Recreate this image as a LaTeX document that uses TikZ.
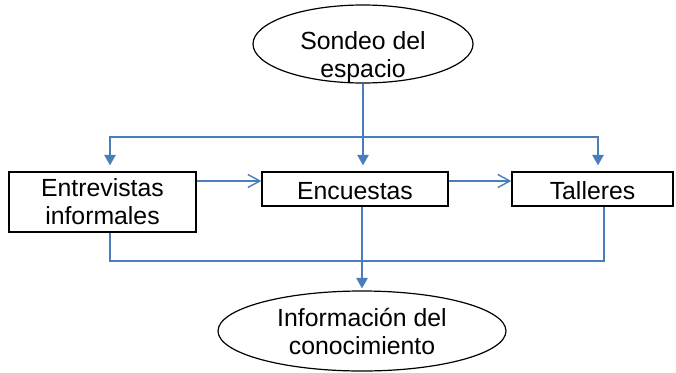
\documentclass[tikz,border=0pt]{standalone}
\usepackage{fontspec}
\setmainfont{Liberation Sans}
\usetikzlibrary{shapes.geometric,arrows.meta}
\definecolor{linkblue}{HTML}{4A7EBB}

\begin{document}
\begin{tikzpicture}[x=1pt, y=-1pt, font=\fontsize{24.8}{28}\selectfont,
		box/.style={draw, line width=1.4pt, minimum height=34pt, inner sep=0pt, align=center},
		oval/.style={draw, ellipse, line width=1.2pt, inner sep=0pt, align=center},
		link/.style={draw=linkblue, line width=1.4pt},
		arr/.style={link, -{Triangle[length=10.5pt,width=11.5pt]}},
		barb/.style={link, -{Straight Barb[length=12pt,width=13pt]}}]
		\useasboundingbox (0,0) rectangle (676,372);

		\node[oval, minimum width=220pt, minimum height=78pt] (sondeo) at (363,44) {};
		\node[align=center] (sondeotxt) at (363,57) {Sondeo del\\espacio};
		\node[box, minimum width=187pt, minimum height=60pt] (ent) at (102.5,202) {Entrevistas\\informales};
		\node[box, minimum width=186pt, text height=20pt, text depth=0pt] (enc) at (355,189) {Encuestas};
		\node[box, minimum width=161pt, text height=20pt, text depth=0pt] (tal) at (592.5,189) {Talleres};
		\node[oval, minimum width=288pt, minimum height=80pt] (info) at (362,331) {Información del\\conocimiento};

		\coordinate (split) at (363,137);
		\coordinate (bot) at (0,261);
		\path ([yshift=8pt]enc.west) coordinate (encin) ([yshift=8pt]tal.west) coordinate (talin);
		\path ([xshift=7.5pt]ent.south) coordinate (entout) ([xshift=11.5pt]tal.south) coordinate (talout);

		\draw[arr, shorten >=6pt] (sondeo) -- (sondeo |- enc.north);
		\draw[arr, shorten >=6pt] (split) -| ([xshift=7.5pt]ent.north);
		\draw[arr, shorten >=6pt] (split) -| ([xshift=5.5pt]tal.north);
		\draw[barb] (ent.east |- encin) -- (encin);
		\draw[barb] (enc.east |- talin) -- (talin);
		\draw[link] (entout) |- (talout |- bot) -- (talout);
		\draw[arr, shorten >=2pt] (info.north |- enc.south) -- (info);
	\end{tikzpicture}
\end{document}
